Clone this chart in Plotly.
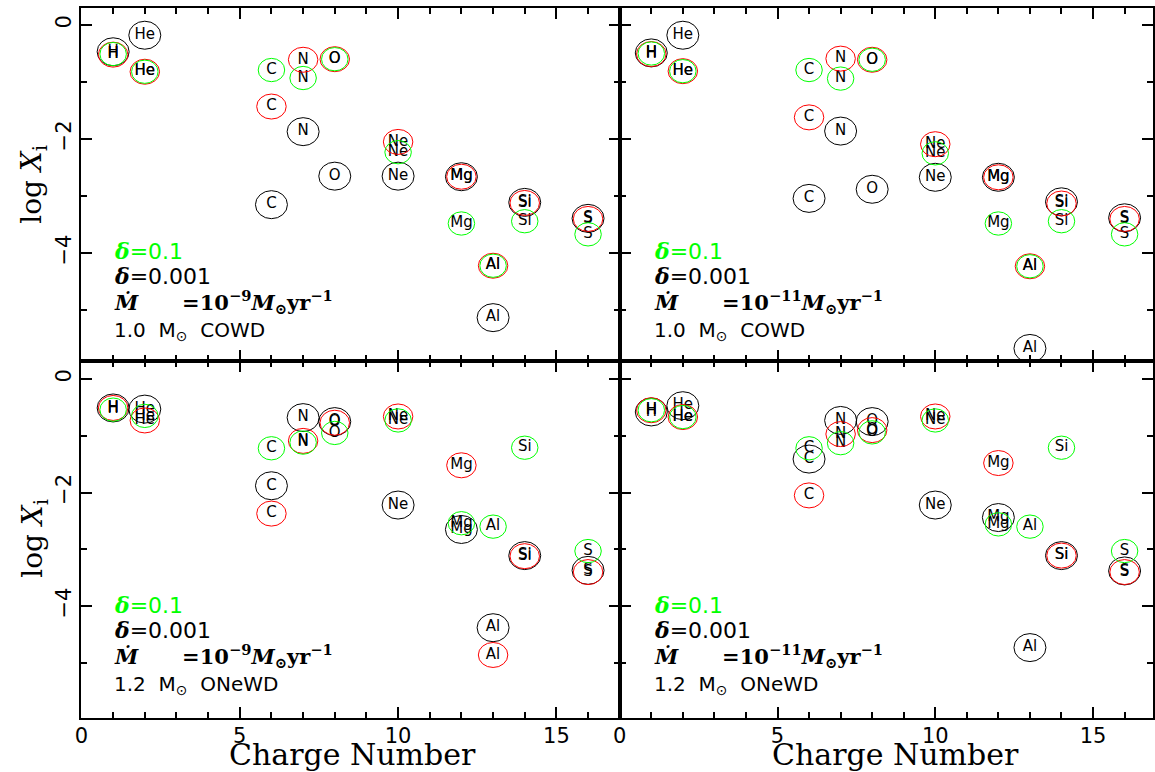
import plotly.graph_objects as go

W, H = 1155, 772

# ---------------- data ----------------
elements = ["H", "He", "C", "N", "O", "Ne", "Mg", "Al", "Si", "S"]
charge = [1, 2, 6, 7, 8, 10, 12, 13, 14, 16]

# Panel a: 1.0 Msun COWD, Mdot=1e-9
a_black = [-0.47, -0.18, -3.15, -1.87, -2.65, -2.65, -2.66, -5.13, -3.11, -3.39]
a_red   = [-0.52, -0.82, -1.43, -0.61, -0.60, -2.05, -2.66, -4.22, -3.12, -3.40]
a_green = [-0.51, -0.82, -0.79, -0.93, -0.60, -2.23, -3.48, -4.22, -3.44, -3.67]

# Panel b: 1.0 Msun COWD, Mdot=1e-11
b_black = [-0.49, -0.18, -3.04, -1.86, -2.88, -2.67, -2.67, -5.67, -3.10, -3.38]
b_red   = [-0.51, -0.81, -1.62, -0.59, -0.61, -2.09, -2.67, -4.23, -3.13, -3.40]
b_green = [-0.50, -0.81, -0.79, -0.94, -0.61, -2.25, -3.48, -4.23, -3.44, -3.67]

# Panel c: 1.2 Msun ONeWD, Mdot=1e-9
c_black = [-0.51, -0.53, -1.88, -0.68, -0.75, -2.22, -2.65, -4.38, -3.11, -3.37]
c_red   = [-0.51, -0.73, -2.37, -1.09, -0.77, -0.66, -1.52, -4.86, -3.12, -3.40]
c_green = [-0.54, -0.65, -1.22, -1.12, -0.95, -0.73, -2.54, -2.60, -1.21, -3.03]

# Panel d: 1.2 Msun ONeWD, Mdot=1e-11 (red Al not shown)
d_black = [-0.58, -0.47, -1.41, -0.73, -0.75, -2.22, -2.44, -4.73, -3.11, -3.38]
d_red   = [-0.55, -0.67, -2.05, -0.97, -0.90, -0.66, -1.48, None, -3.11, -3.40]
d_green = [-0.55, -0.67, -1.22, -1.13, -0.94, -0.73, -2.56, -2.60, -1.21, -3.03]

panels = [
    dict(ax="", black=a_black, red=a_red, green=a_green, mdot="−9", wd="1.0", kind="COWD"),
    dict(ax="2", black=b_black, red=b_red, green=b_green, mdot="−11", wd="1.0", kind="COWD"),
    dict(ax="3", black=c_black, red=c_red, green=c_green, mdot="−9", wd="1.2", kind="ONeWD"),
    dict(ax="4", black=d_black, red=d_red, green=d_green, mdot="−11", wd="1.2", kind="ONeWD"),
]

xticks = [0, 5, 10, 15]
yticks = [0, -2, -4]

# ---------------- layout geometry (pixels) ----------------
xl0, xmid, xr1 = 75, 617, 1154
yt0, ymid, yb1 = 7.5, 361, 718

def px(x):
    return x / W

def py(y):
    return 1 - y / H

GREEN = "#00ff00"
RED = "#ff0000"
BLACK = "#000000"
ell = {BLACK: (32, 28), RED: (29.5, 25), GREEN: (26.5, 23.3)}

fig = go.Figure()
shapes = []
annotations = []

for i, p in enumerate(panels):
    xa = "x" + p["ax"]
    ya = "y" + p["ax"]
    for col, vals in ((BLACK, p["black"]), (RED, p["red"]), (GREEN, p["green"])):
        zs = [z for z, v in zip(charge, vals) if v is not None]
        vs = [v for v in vals if v is not None]
        labs = [e for e, v in zip(elements, vals) if v is not None]
        fig.add_trace(go.Scatter(
            x=zs, y=vs, text=labs, mode="text", xaxis=xa, yaxis=ya,
            textposition="middle center",
            textfont=dict(family="DejaVu Sans", size=15, color="black"),
            showlegend=False, hoverinfo="skip"))
        w, h = ell[col]
        for z, v in zip(zs, vs):
            shapes.append(dict(type="circle", xref=xa, yref=ya,
                               xsizemode="pixel", ysizemode="pixel",
                               xanchor=z, yanchor=v,
                               x0=-w / 2, x1=w / 2, y0=-h / 2, y1=h / 2,
                               line=dict(color=col, width=1)))

    # text block
    left = i % 2 == 0
    top = i < 2
    x0 = 106 if left else 649
    dy = 0 if top else 353.5
    serif_d = '<span style="font-family:DejaVu Serif"><b><i>δ</i></b></span>'
    lines = [
        (251, serif_d + "=0.1", "DejaVu Sans", 22, GREEN),
        (276, serif_d + "=0.001", "DejaVu Sans", 22, BLACK),
        (302, "<b><i>Ṁ</i>&nbsp;&nbsp;&nbsp;&nbsp;&nbsp;&nbsp;=10<sup>" + p["mdot"] + "</sup><i>M</i><sub>⊙</sub>yr<sup>−1</sup></b>",
         "DejaVu Serif", 21, BLACK),
        (331, p["wd"] + "&nbsp;&nbsp;M<sub>⊙</sub>&nbsp;&nbsp;" + p["kind"], "DejaVu Sans", 20, BLACK),
    ]
    for yy, txt, fam, sz, colr in lines:
        annotations.append(dict(x=px(x0), y=py(yy + dy), xref="paper", yref="paper",
                                xanchor="left", yanchor="middle", showarrow=False,
                                text=txt, font=dict(family=fam, size=sz, color=colr)))

# axis titles
for yy in (184, 538):
    annotations.append(dict(x=px(27), y=py(yy), xref="paper", yref="paper",
                            xanchor="center", yanchor="middle", showarrow=False,
                            textangle=-90, text="log <i>X</i><sub>i</sub>",
                            font=dict(family="DejaVu Serif", size=28, color="black")))
for xx in (348, 895):
    annotations.append(dict(x=px(xx), y=py(754), xref="paper", yref="paper",
                            xanchor="center", yanchor="middle", showarrow=False,
                            text="Charge Number",
                            font=dict(family="DejaVu Serif", size=30, color="black")))

common = dict(showline=True, linewidth=2, linecolor="black", mirror="ticks",
              ticks="inside", ticklen=11, tickwidth=2, tickcolor="black",
              showgrid=False, zeroline=False,
              tickfont=dict(family="DejaVu Sans", size=21, color="black"),
              minor=dict(ticks="inside", ticklen=6, tickwidth=1.5, tickcolor="black",
                         dtick=1, showgrid=False))

xdom_l = [px(xl0), px(xmid)]
xdom_r = [px(xmid), px(xr1)]
ydom_t = [py(ymid), py(yt0)]
ydom_b = [py(yb1), py(ymid)]
yr_t = [-5.89, 0.306]
yr_b = [-5.97, 0.317]

def xax(dom, anchor, rng, labels):
    return dict(common, domain=dom, anchor=anchor, range=rng, tickmode="array",
                tickvals=xticks, showticklabels=labels, ticklabelstandoff=-2)

def yax(dom, anchor, rng, labels):
    return dict(common, domain=dom, anchor=anchor, range=rng, tickmode="array",
                tickvals=yticks, showticklabels=labels, tickangle=-90)

fig.update_layout(
    width=W, height=H, margin=dict(l=0, r=0, t=0, b=0),
    paper_bgcolor="white", plot_bgcolor="white", showlegend=False,
    xaxis=xax(xdom_l, "y", [0, 17], False),
    yaxis=yax(ydom_t, "x", yr_t, True),
    xaxis2=xax(xdom_r, "y2", [0, 16.9], False),
    yaxis2=yax(ydom_t, "x2", yr_t, False),
    xaxis3=xax(xdom_l, "y3", [0, 17], True),
    yaxis3=yax(ydom_b, "x3", yr_b, True),
    xaxis4=xax(xdom_r, "y4", [0, 16.9], True),
    yaxis4=yax(ydom_b, "x4", yr_b, False),
    shapes=shapes, annotations=annotations,
)

fig.write_html("out.html", config={"displayModeBar": False},
               post_script="document.body.style.margin='0';document.body.style.overflow='hidden';")
